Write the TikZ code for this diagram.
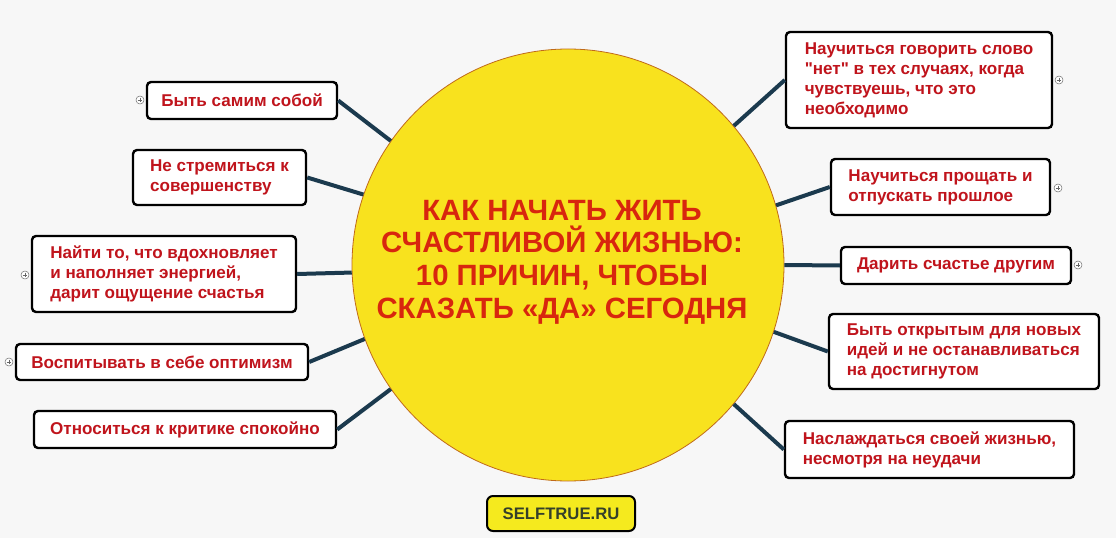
\documentclass[tikz,border=0pt]{standalone}
\usepackage{fontspec}
\setmainfont{Liberation Sans}
\usetikzlibrary{positioning,calc}
\definecolor{pagebg}{HTML}{F7F7F7}
\definecolor{sunfill}{HTML}{F8E21E}
\definecolor{sunrim}{HTML}{C06A1A}
\definecolor{linknavy}{HTML}{1B3A4E}
\definecolor{reasonred}{HTML}{C0141C}
\definecolor{titlered}{HTML}{D8260E}
\definecolor{tagyellow}{HTML}{F5EA1E}
\definecolor{tagtext}{HTML}{34402A}
\tikzset{
  reason/.style={draw=black, line width=1.8pt, fill=white, rounded corners=3pt,
                 inner sep=0pt, align=left, text=reasonred,
                 font=\fontsize{12.8}{15}\selectfont\bfseries},
  sunball/.style={circle, draw=sunrim, line width=0.6pt, fill=sunfill, inner sep=0pt},
  tagbox/.style={draw=black, line width=1.5pt, fill=tagyellow, rounded corners=4.5pt,
                 inner sep=0pt, text=tagtext, font=\fontsize{12.5}{14}\selectfont\bfseries},
  link/.style={line width=3pt, color=linknavy},
  expander/.style={circle, draw=black!55, line width=0.4pt, fill=white, minimum size=6pt,
                   inner sep=0pt, path picture={
                     \draw[black!60, line width=0.4pt]
                       ($(path picture bounding box.west)+(1.3pt,0)$) -- ($(path picture bounding box.east)+(-1.3pt,0)$)
                       ($(path picture bounding box.north)+(0,-1.3pt)$) -- ($(path picture bounding box.south)+(0,1.3pt)$);}}}

\begin{document}
\begin{tikzpicture}[x=0.75pt,y=-0.75pt]
    \fill[pagebg] (0,0) rectangle (1116,538);
    % the centre
    \node[sunball, minimum size=324pt] (sun) at (568,265) {};
    \node[align=center, text=titlered, font=\fontsize{22}{24.5}\selectfont\bfseries]
      (title) at (562,262) {КАК НАЧАТЬ ЖИТЬ\\СЧАСТЛИВОЙ ЖИЗНЬЮ:\\10 ПРИЧИН, ЧТОБЫ\\СКАЗАТЬ «ДА» СЕГОДНЯ};
    % left side
    \node[reason, minimum width=142.5pt, minimum height=27.75pt] (self) at (242,100.5)
      {Быть самим собой};
    \node[reason, minimum width=129.75pt, minimum height=41.25pt] (perfect) at (219.5,177.5)
      {Не стремиться к\\совершенству};
    \node[reason, minimum width=198pt, minimum height=57pt] (inspire) at (164,274)
      {Найти то, что вдохновляет\\и наполняет энергией,\\дарит ощущение счастья};
    \node[reason, minimum width=219pt, minimum height=27pt] (optimism) at (162,362)
      {Воспитывать в себе оптимизм};
    \node[reason, minimum width=226.5pt, minimum height=27.75pt] (critic) at (185,429.5)
      {Относиться к критике спокойно};
    % right side
    \node[reason, minimum width=199.5pt, minimum height=72pt] (sayno) at (919,80)
      {Научиться говорить слово\\\textquotedbl нет\textquotedbl{} в тех случаях, когда\\чувствуешь, что это\\необходимо};
    \node[reason, minimum width=164.25pt, minimum height=42pt] (forgive) at (940.5,187)
      {Научиться прощать и\\отпускать прошлое};
    \node[reason, minimum width=172.5pt, minimum height=27.75pt] (give) at (956,265.5)
      {Дарить счастье другим};
    \node[reason, minimum width=202.5pt, minimum height=56.25pt] (open) at (964,351.5)
      {Быть открытым для новых\\идей и не останавливаться\\на достигнутом};
    \node[reason, minimum width=216.75pt, minimum height=42.75pt] (enjoy) at (929.5,449.5)
      {Наслаждаться своей жизнью,\\несмотря на неудачи};
    \node[tagbox, minimum width=111pt, minimum height=26.25pt] (site) at (561,513.5)
      {SELFTRUE.RU};
    % spokes
    \draw[link] (self.east) -- (sun.145);
    \draw[link] (perfect.east) -- (sun.161);
    \draw[link] (inspire.east) -- (sun.182);
    \draw[link] (optimism.east) -- (sun.200);
    \draw[link] (critic.east) -- (sun.215);
    \draw[link] (sayno.west) -- (sun.40);
    \draw[link] (forgive.west) -- (sun.16);
    \draw[link] (give.west) -- (sun.0);
    \draw[link] (open.west) -- (sun.-18);
    \draw[link] (enjoy.west) -- (sun.-40);
    % expand markers
    \node[expander] (xself) at (140,100) {};
    \node[expander] (xinspire) at (25,275) {};
    \node[expander] (xoptimism) at (9,362) {};
    \node[expander] (xsayno) at (1059,80) {};
    \node[expander] (xforgive) at (1058,188) {};
    \node[expander] (xgive) at (1078,265) {};
\end{tikzpicture}
\end{document}
